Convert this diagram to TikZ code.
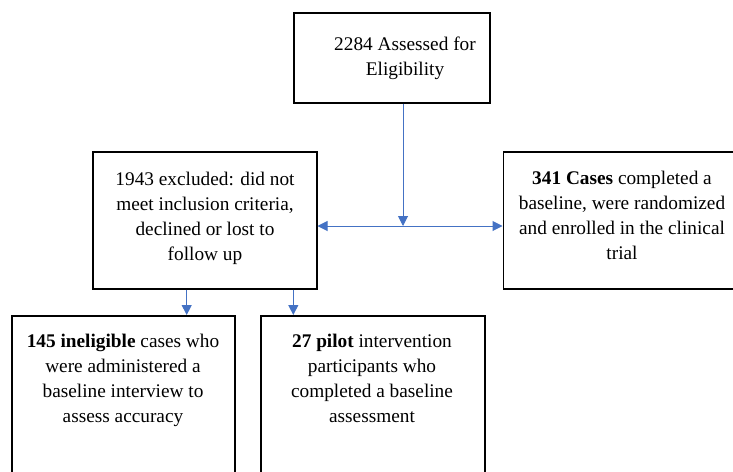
\documentclass[tikz,border=0pt]{standalone}
\usepackage{fontspec}
\setmainfont{Liberation Serif}
\usetikzlibrary{arrows.meta}
\definecolor{arrblue}{HTML}{4472C4}
\begin{document}
\begin{tikzpicture}[x=1pt,y=-1pt,
  box/.style={draw=black, line width=1.5pt, inner sep=0pt, anchor=north west},
  txt/.style={align=center, inner sep=0pt, anchor=base, font=\fontsize{19.3}{25}\selectfont},
  arr/.style={draw=arrblue, line width=1pt, -{Triangle[length=10pt,width=10pt]}},
  darr/.style={draw=arrblue, line width=1pt, {Triangle[length=10pt,width=10pt]}-{Triangle[length=10pt,width=10pt]}}]
\useasboundingbox (0,0) rectangle (733,471);
\clip (0,0) rectangle (733,471);
% boxes
\node[box, minimum width=196pt, minimum height=90pt] (top) at (293,12) {};
\node[box, minimum width=224pt, minimum height=137pt] (left) at (92,151) {};
\node[box, minimum width=230pt, minimum height=137pt] (right) at (502.5,151) {};
\node[box, minimum width=223pt, minimum height=190pt] (bl) at (11,315) {};
\node[box, minimum width=224pt, minimum height=190pt] (bm) at (260,315) {};
% texts (base anchor = baseline of last line)
\node[txt] (toptext) at (405,75) {2284 Assessed for\\Eligibility};
\node[txt] (lefttext) at (205,260) {1943 excluded: did not\\meet inclusion criteria,\\declined or lost to\\follow up};
\node[txt] (righttext) at (622,259) {\textbf{341 Cases} completed a\\baseline, were randomized\\and enrolled in the clinical\\trial};
\node[txt] (bltext) at (123,422.5) {\textbf{145 ineligible} cases who\\were administered a\\baseline interview to\\assess accuracy};
\node[txt] (bmtext) at (372,422.5) {\textbf{27 pilot} intervention\\participants who\\completed a baseline\\assessment};
% connectors
\coordinate (j) at (403,226);
\coordinate (a1) at (186.7,300);
\coordinate (a2) at (293.3,300);
\draw[arr] (top.south -| j) -- (j);
\draw[darr] (left.east |- j) -- (right.west |- j);
\draw[arr] (left.south -| a1) -- (bl.north -| a1);
\draw[arr] (left.south -| a2) -- (bm.north -| a2);
\end{tikzpicture}
\end{document}
